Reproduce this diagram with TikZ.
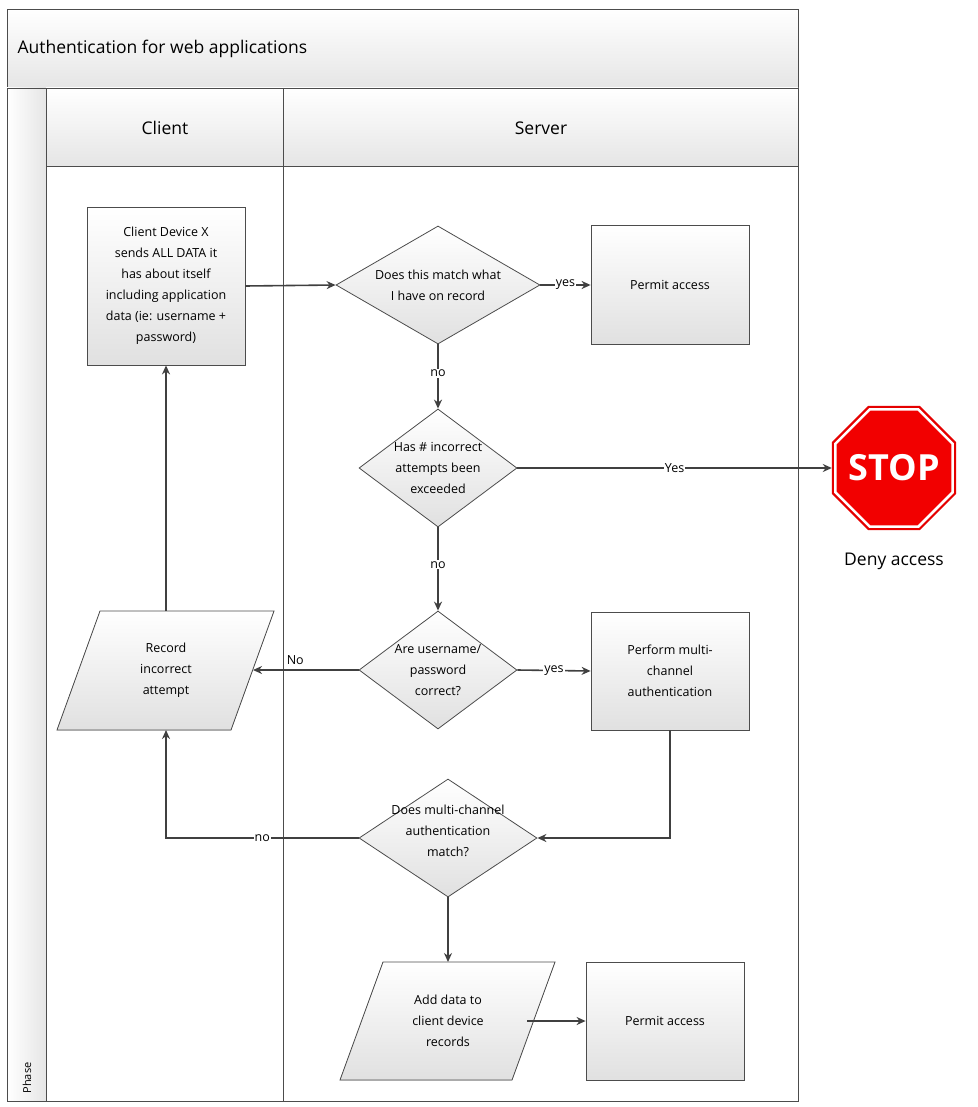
\documentclass[tikz,border=0pt]{standalone}
\usepackage{fontspec}
\setmainfont{Open Sans}
\usetikzlibrary{shapes.geometric,arrows.meta}
\begin{document}
\begin{tikzpicture}[x=1pt,y=-1pt,
  box/.style={draw=black!70,top color=white,bottom color=black!12,line width=0.8pt},
  dia/.style={diamond,draw=black!70,top color=white,bottom color=black!12,line width=0.8pt,aspect=1.7,inner sep=0pt},
  txt/.style={align=center,font=\fontsize{12.5}{21}\selectfont,text=black},
  conn/.style={draw=black!75,line width=1.6pt,-{Stealth[length=9pt,width=8pt]}},
  lab/.style={fill=white,inner sep=1pt,font=\fontsize{12.5}{14}\selectfont}]
\useasboundingbox (0,0) rectangle (977,1107);
% frame
\draw[black!70,top color=white,bottom color=black!10] (7,9) rectangle (798,88);
\node[anchor=west,font=\fontsize{17.5}{20}\selectfont] (title) at (14,49) {Authentication for web applications};
\draw[black!70,left color=white,right color=black!10] (7,88) rectangle (46,1101);
\node[rotate=90,anchor=west,font=\fontsize{11}{13}\selectfont] (phase) at (27,1097) {Phase};
\draw[black!70,top color=white,bottom color=black!10] (46,88) rectangle (798,166);
\node[font=\fontsize{17.5}{20}\selectfont] (client) at (165,128) {Client};
\node[font=\fontsize{17.5}{20}\selectfont] (server) at (541,128) {Server};
\draw[black!70] (46,88) rectangle (798,1101);
\draw[black!70] (283,88) -- (283,1101);
\draw[black!70] (46,166) -- (798,166);
% nodes
\node[box,minimum width=158,minimum height=158,inner sep=0pt] (cbox) at (166,286) {};
\node[txt] at (cbox) {Client Device X\\sends ALL DATA it\\has about itself\\including application\\data (ie: username +\\password)};
\node[dia,minimum width=204,minimum height=118] (d1) at (438,285) {};
\node[txt] at (d1) {Does this match what\\I have on record};
\node[box,minimum width=158,minimum height=119,txt] (p1) at (670,285) {Permit access};
\node[dia,minimum width=158,minimum height=118] (d2) at (438,468) {};
\node[txt] at (d2) {Has \# incorrect\\attempts been\\exceeded};
\node[regular polygon,regular polygon sides=8,minimum size=134,inner sep=0pt,fill=red!90!black,draw=red!90!black,line width=0.6pt] (stopo) at (894,468) {};
\node[regular polygon,regular polygon sides=8,minimum size=127,inner sep=0pt,fill=red!95!black,draw=white,line width=2.5pt] (stop) at (894,468) {};
\node[text=white,font=\bfseries\fontsize{36}{36}\selectfont] (stoptxt) at (894,468) {STOP};
\node[font=\fontsize{17.5}{20}\selectfont] (deny) at (894,561) {Deny access};
\node[dia,minimum width=158,minimum height=118] (d3) at (438,670) {};
\node[txt] at (d3) {Are username/\\password\\correct?};
\node[box,minimum width=158,minimum height=118] (perf) at (670,671) {};
\node[txt] at (perf) {Perform multi-\\channel\\authentication};
\fill[top color=white,bottom color=black!12] (100,611) -- (274,611) -- (231,730) -- (57,730) -- cycle;
\draw[black!70,line width=0.8pt] (100,611) -- (274,611) -- (231,730) -- (57,730) -- cycle;
\node[txt] (rec) at (166,670) {Record\\incorrect\\attempt};
\coordinate (recR) at (253,670);
\coordinate (recT) at (166,611);
\coordinate (recB) at (166,730);
\node[dia,minimum width=178,minimum height=118] (d4) at (448,838) {};
\node[txt] at (448,831) {Does multi-channel\\authentication\\match?};
\fill[top color=white,bottom color=black!12] (383,962) -- (555,962) -- (512,1080) -- (340,1080) -- cycle;
\draw[black!70,line width=0.8pt] (383,962) -- (555,962) -- (512,1080) -- (340,1080) -- cycle;
\node[txt] (add) at (448,1021) {Add data to\\client device\\records};
\coordinate (addT) at (448,962);
\coordinate (addR) at (527,1021);
\node[box,minimum width=158,minimum height=118,txt] (p2) at (665,1021) {Permit access};
% connectors
\draw[conn] (cbox.east) -- (d1.west);
\draw[conn] (d1.east) -- node[lab]{yes} (p1.west);
\draw[conn] (d1.south) -- node[lab,pos=0.45]{no} (d2.north);
\draw[conn] (d2.east) -- node[lab,pos=0.5]{Yes} (stopo.west);
\draw[conn] (d2.south) -- node[lab,pos=0.45]{no} (d3.north);
\draw[conn] (d3.west) -- node[lab,pos=0.6,yshift=10]{No} (recR);
\draw[conn] (d3.east) -- node[lab]{yes} (perf.west);
\draw[conn] (perf.south) |- (d4.east);
\draw[conn] (d4.west) -| node[lab,pos=0.25]{no} (recB);
\draw[conn] (recT) -- (cbox.south);
\draw[conn] (d4.south) -- (addT);
\draw[conn] (addR) -- (p2.west);
\end{tikzpicture}
\end{document}
